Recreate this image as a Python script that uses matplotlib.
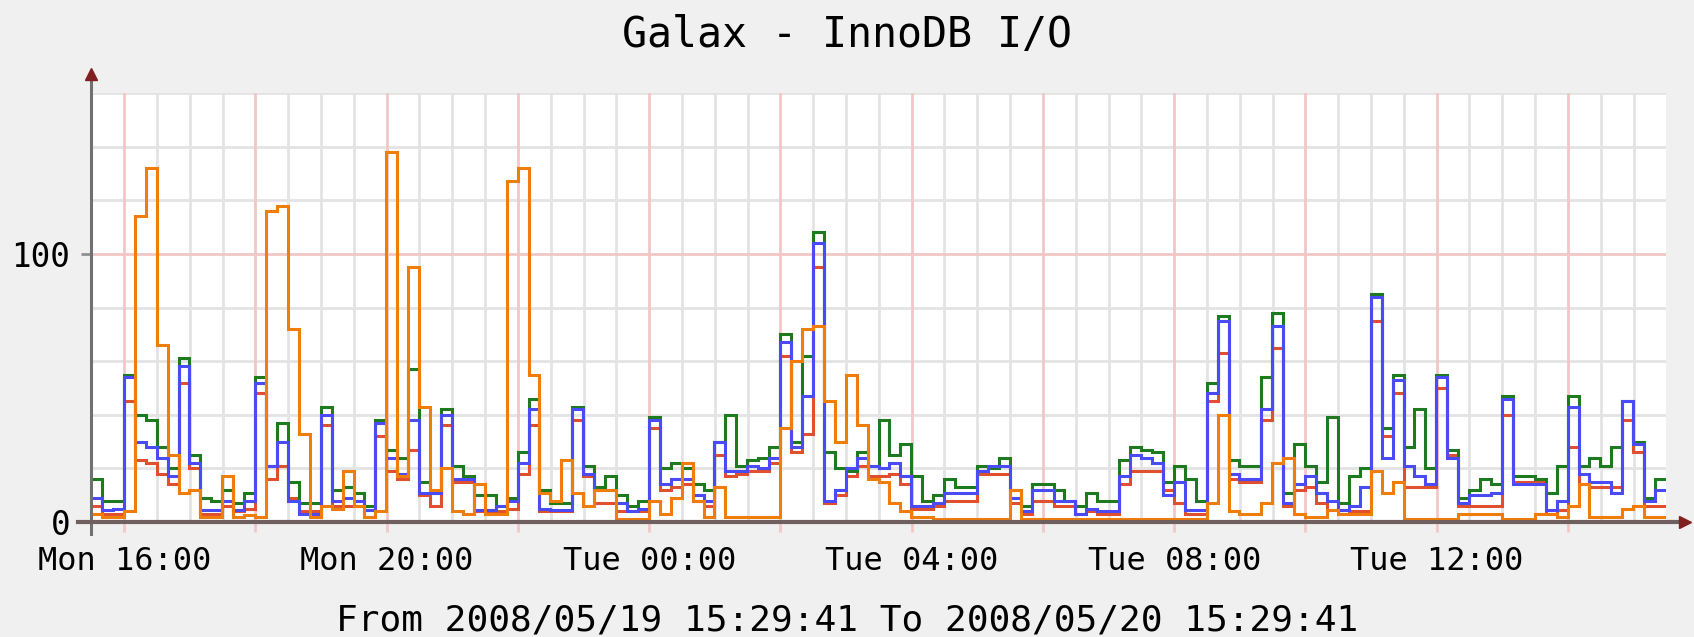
"""
    Galax - InnoDB I/O, rrdtool style line graph over 24 hours (10 minute steps).
"""

import matplotlib
matplotlib.use("Agg")
import matplotlib.pyplot as plt
import matplotlib.dates as mdates
from datetime import datetime, timedelta

start = datetime(2008, 5, 19, 15, 29, 41)
end = datetime(2008, 5, 20, 15, 29, 41)
step = timedelta(minutes=10)

green = [16, 8, 8, 55, 40, 38, 28, 20, 61, 25, 9, 8,
         12, 7, 11, 54, 21, 37, 15, 7, 7, 43, 12, 13,
         11, 6, 38, 27, 24, 57, 15, 11, 42, 21, 17, 10,
         10, 6, 9, 26, 46, 12, 7, 7, 43, 21, 13, 17,
         10, 6, 8, 39, 20, 22, 20, 14, 12, 30, 40, 21,
         23, 24, 28, 70, 30, 62, 108, 26, 20, 19, 26, 21,
         38, 25, 29, 17, 8, 10, 16, 13, 13, 21, 20, 24,
         12, 6, 14, 14, 12, 8, 6, 11, 8, 8, 23, 28,
         27, 26, 15, 21, 16, 8, 52, 77, 23, 21, 21, 54,
         78, 11, 29, 21, 15, 39, 7, 17, 20, 85, 35, 55,
         28, 42, 20, 55, 27, 9, 12, 16, 14, 47, 17, 17,
         16, 11, 21, 47, 21, 24, 21, 28, 45, 30, 9, 16]

blue = [9, 4.5, 5, 54, 30, 28, 24, 17, 58, 22, 4.5, 4.5,
        8, 4.5, 8, 52, 21, 30, 8, 3, 3, 40, 8, 9,
        8, 4.5, 37, 24, 18, 38, 11, 11, 40, 16, 16, 4.5,
        4.5, 6, 8, 22, 42, 5, 4.5, 4.5, 42, 18, 12, 12,
        7, 4, 5, 38, 14, 16, 16, 10, 8, 30, 19, 19,
        21, 20, 24, 67, 28, 47, 104, 8, 12, 20, 24, 21,
        20, 22, 17, 6, 6, 7, 11, 11, 11, 19, 21, 21,
        9, 4, 12, 12, 8, 8, 3, 5, 4, 4, 17, 25,
        24, 22, 10, 15, 4.5, 4.5, 48, 75, 18, 16, 16, 42,
        73, 7, 14, 17, 11, 8, 4.5, 6, 13, 84, 24, 53,
        21, 17, 14, 54, 24, 7, 10, 10, 11, 46, 14, 14,
        14, 4.5, 8, 43, 18, 15, 15, 11, 45, 29, 8, 12]

red = [6, 3, 3, 45, 23, 22, 18, 14, 52, 20, 3, 3,
       6, 4, 5, 48, 16, 21, 9, 4, 4, 36, 6, 6,
       6, 2, 32, 19, 16, 27, 10, 6, 36, 15, 15, 4,
       4, 4, 5, 18, 36, 4, 4, 4, 38, 17, 7, 7,
       4, 4, 4, 35, 12, 13, 14, 8, 6, 25, 17, 18,
       19, 19, 22, 62, 26, 33, 95, 7, 10, 17, 21, 17,
       17, 18, 14, 5, 5, 6, 8, 8, 8, 18, 18, 18,
       7, 3, 8, 8, 6, 6, 3, 4, 3, 3, 14, 19,
       19, 19, 12, 7, 3, 3, 45, 63, 16, 15, 15, 38,
       65, 6, 12, 13, 7, 4.5, 4.5, 4, 4, 75, 32, 48,
       13, 13, 13, 50, 25, 6, 6, 6, 6, 40, 15, 15,
       15, 3, 4.5, 28, 14, 13, 13, 13, 38, 26, 6, 6]

orange = [3, 2, 2, 4, 114, 132, 66, 25, 11, 12, 2, 2,
          17, 2, 2.5, 2, 116, 118, 72, 33, 2, 6, 5, 19,
          6, 2, 4, 138, 17, 95, 43, 12, 20, 4, 3, 14,
          3, 3, 127, 132, 55, 11, 8, 23, 11, 6, 12, 12,
          1, 1, 1, 8, 3, 9, 22, 8, 2, 13, 2, 2,
          2, 2, 2, 35, 60, 72, 73, 45, 30, 55, 36, 16,
          15, 7, 4, 2, 2, 1, 1, 1, 1, 1, 1, 1,
          12, 1, 1, 1, 1, 1, 1, 1, 1, 1, 1, 1,
          1, 1, 1, 1, 1, 1, 7, 40, 4, 3, 3, 7,
          22, 24, 3, 2, 2, 4.5, 3, 3, 3, 19, 11, 15,
          1, 1, 1, 1, 1, 3, 3, 3, 3, 1, 1, 1,
          3, 3, 2, 6, 14, 2, 2, 2, 5, 6, 2, 2]

tick_labels = ["Mon 16:00", "", "Mon 20:00", "", "Tue 00:00", "", "Tue 04:00", "",
               "Tue 08:00", "", "Tue 12:00", ""]
y_labels = ["0", "100"]

MONO = "DejaVu Sans Mono"

times = [start + step * k for k in range(len(green))] + [end]
x = mdates.date2num(times)

fig = plt.figure(figsize=(16.94, 6.37), dpi=100, facecolor="#f0f0f0")
ax = fig.add_axes([91 / 1694, 115 / 637, 1575 / 1694, 429 / 637])
ax.set_facecolor("white")
for s in ax.spines.values():
    s.set_visible(False)

# grid: gray every 30 min / 20 units, red every 2 h / 100 units
major_t = [datetime(2008, 5, 19, 16, 0) + timedelta(hours=2 * k) for k in range(12)]
minor_t = [datetime(2008, 5, 19, 15, 30) + timedelta(minutes=30 * k) for k in range(48)]
minor_t = [t for t in minor_t if t not in major_t]
for t in minor_t:
    ax.axvline(mdates.date2num(t), color="#e3e3e3", lw=2.0, zorder=0)
for v in range(20, 161, 20):
    if v != 100:
        ax.axhline(v, color="#e3e3e3", lw=2.0, zorder=0)
for t in major_t:
    ax.axvline(mdates.date2num(t), color="#f2c6c6", lw=2.0, zorder=0.5)
ax.axhline(100, color="#f2c6c6", lw=2.0, zorder=0.5)

series = [(red, "#e0502e"), (green, "#1e7a1e"), (blue, "#4b4bf5"), (orange, "#f07d0a")]
for vals, col in series:
    ax.plot(x, list(vals) + [vals[-1]], drawstyle="steps-post", color=col, lw=2.2,
            solid_joinstyle="miter", zorder=3)

ax.set_xlim(x[0], x[-1])
ax.set_ylim(0, 160)

ax.set_xticks(mdates.date2num(major_t))
ax.set_xticklabels(tick_labels, fontfamily=MONO, fontsize=23)
ax.set_yticks([0, 100])
ax.set_yticklabels(y_labels, fontfamily=MONO, fontsize=23.5)
ax.tick_params(axis="x", length=7, width=2, color="#f2c6c6", pad=10)
ax.tick_params(axis="y", length=7, width=2, color="#909090", pad=8)

# axis lines with arrows, rrdtool style
ax.plot([0, 0], [-0.028, 1.04], color="#707070", lw=2.2, transform=ax.transAxes,
        clip_on=False, zorder=5)
ax.plot([-0.008, 1.008], [0, 0], color="#6f5f5f", lw=3, transform=ax.transAxes,
        clip_on=False, zorder=5)
ax.plot([0], [1.045], marker="^", color="#7f1f1f", markersize=9, transform=ax.transAxes,
        clip_on=False, zorder=6)
ax.plot([1.012], [0], marker=">", color="#7f1f1f", markersize=9, transform=ax.transAxes,
        clip_on=False, zorder=6)

fig.text(0.5, 1 - 35 / 637, "Galax - InnoDB I/O", ha="center", va="center",
         fontfamily=MONO, fontsize=30)
fig.text(0.5, 1 - 621 / 637, "From 2008/05/19 15:29:41 To 2008/05/20 15:29:41",
         ha="center", va="center", fontfamily=MONO, fontsize=26)

plt.savefig("out.png", dpi=100, facecolor=fig.get_facecolor())
